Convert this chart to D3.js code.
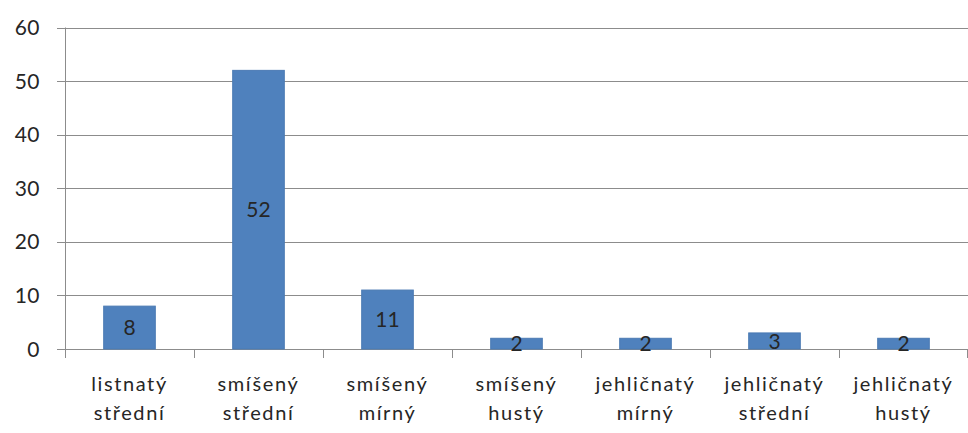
<!DOCTYPE html>
<html>
<head>
<meta charset="utf-8">
<script src="https://cdn.jsdelivr.net/npm/d3@7"></script>
<style>
  html, body { margin: 0; padding: 0; background: #fff; }
  svg { display: block; }
  text { font-family: Lato, "Open Sans", sans-serif; fill: #262626; }
</style>
</head>
<body>
<svg id="chart" width="968" height="433"></svg>
<script>
// Forest types (two-line labels) and counts
const categories = [
  ["listnatý", "střední"],
  ["smíšený", "střední"],
  ["smíšený", "mírný"],
  ["smíšený", "hustý"],
  ["jehličnatý", "mírný"],
  ["jehličnatý", "střední"],
  ["jehličnatý", "hustý"]
];
const values = [8, 52, 11, 2, 2, 3, 2];
const yTicks = [0, 10, 20, 30, 40, 50, 60];

const svg = d3.select("#chart");
const margin = { left: 65, right: 0, top: 27.5, bottom: 84 };
const W = 968, H = 433;
const x0 = margin.left, x1 = W - margin.right;
const yTop = margin.top, yBottom = H - margin.bottom;

const x = d3.scaleBand()
  .domain(d3.range(categories.length))
  .range([x0, x1])
  .paddingInner(0.6)
  .paddingOuter(0.3);
const band = d3.scaleBand().domain(d3.range(categories.length)).range([x0, x1]);

const y = d3.scaleLinear().domain([0, 60]).range([yBottom, yTop]);

// horizontal gridlines with short left ticks
svg.append("g").selectAll("line").data(yTicks).join("line")
  .attr("x1", x0 - 8).attr("x2", x1)
  .attr("y1", d => Math.round(y(d)) + 0.5).attr("y2", d => Math.round(y(d)) + 0.5)
  .attr("stroke", "#8c8c8c").attr("stroke-width", 1);

// value axis labels
svg.append("g").selectAll("text").data(yTicks).join("text")
  .attr("x", 40).attr("y", d => y(d))
  .attr("dy", "0.36em")
  .attr("text-anchor", "end")
  .style("font-size", "21px")
  .style("letter-spacing", "0.5px")
  .text(d => d);

// vertical axis line
svg.append("line")
  .attr("x1", x0 + 0.5).attr("x2", x0 + 0.5)
  .attr("y1", yTop).attr("y2", yBottom)
  .attr("stroke", "#8c8c8c");

// category separators below the axis
const sepX = d3.range(categories.length + 1).map(i => i < categories.length ? band(i) : x1 - 1);
svg.append("g").selectAll("line").data(sepX).join("line")
  .attr("x1", d => Math.round(d) + 0.5).attr("x2", d => Math.round(d) + 0.5)
  .attr("y1", yBottom).attr("y2", yBottom + 9)
  .attr("stroke", "#8c8c8c");

// bars
svg.append("g").selectAll("rect").data(values).join("rect")
  .attr("x", (d, i) => x(i))
  .attr("width", x.bandwidth())
  .attr("y", d => y(d))
  .attr("height", d => yBottom - y(d))
  .attr("fill", "#4f81bd")
  .attr("stroke", "#4a7ab3")
  .attr("stroke-width", 1);

// value labels centred in each bar
svg.append("g").selectAll("text").data(values).join("text")
  .attr("x", (d, i) => x(i) + x.bandwidth() / 2)
  .attr("y", d => (y(d) + yBottom) / 2)
  .attr("dy", "0.36em")
  .attr("text-anchor", "middle")
  .style("font-size", "21px")
  .text(d => d);

// category labels
const cat = svg.append("g").selectAll("text").data(categories).join("text")
  .attr("text-anchor", "middle")
  .style("font-size", "20px")
  .style("letter-spacing", "1.6px");
cat.each(function (d, i) {
  const t = d3.select(this);
  const cx = band(i) + band.bandwidth() / 2;
  d.forEach((line, k) => {
    t.append("tspan").attr("x", cx).attr("y", 391 + k * 29).text(line);
  });
});
</script>
</body>
</html>
